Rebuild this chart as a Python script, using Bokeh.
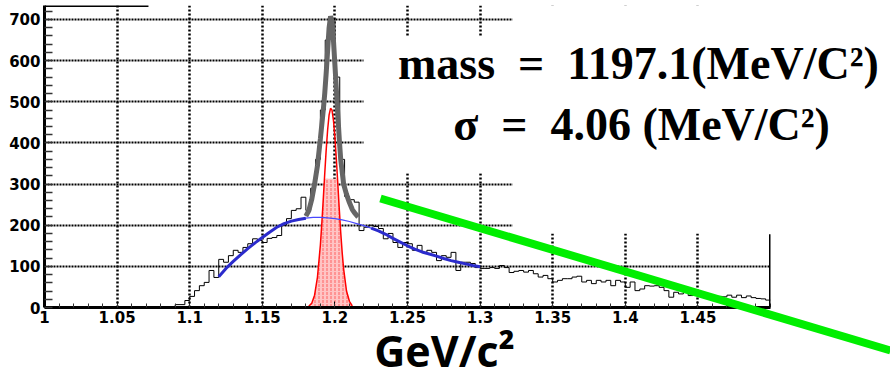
import numpy as np
from bokeh.plotting import figure
from bokeh.models import Range1d, FixedTicker, Label, Arrow, BoxAnnotation, GridBox
from bokeh.embed import file_html
from bokeh.resources import INLINE

# ---------------- data ----------------
hist_lo, hist_hi, n_bins = 1.0, 1.5, 150
counts = [0] * 27 + [
    7, 7, 17, 27, 41, 53, 61, 90, 73, 117,
    110, 126, 139, 134, 146, 155, 167, 163, 158, 168,
    170, 175, 200, 216, 236, 240, 268, 236, 290, 360,
    480, 650, 700, 560, 360, 270, 262, 256, 187, 195,
    200, 197, 192, 167, 180, 158, 146, 158, 155, 139,
    151, 134, 139, 134, 114, 126, 122, 134, 90, 110,
    110, 107, 97, 95, 95, 97, 95, 102, 97, 85,
    88, 90, 86, 90, 82, 74, 78, 70, 62, 66,
    70, 70, 74, 76, 62, 66, 58, 66, 62, 66,
    53, 66, 62, 49, 62, 41, 45, 53, 52, 53,
    49, 41, 25, 37, 33, 37, 29, 30, 29, 33,
    30, 28, 27, 26, 30, 25, 30, 24, 28, 24,
    22, 21, 18]

bg_x = [1.120, 1.125, 1.130, 1.135, 1.140, 1.145, 1.150, 1.155, 1.160, 1.165,
        1.170, 1.175, 1.180, 1.185, 1.190, 1.195, 1.200, 1.205, 1.210, 1.215,
        1.220, 1.225, 1.230, 1.235, 1.240, 1.245, 1.250, 1.255, 1.260, 1.265,
        1.270, 1.275, 1.280, 1.285, 1.290, 1.295, 1.300]
bg_y = [75, 95, 112, 128, 143, 157, 170, 183, 195, 204,
        210, 214, 217, 219, 219, 218, 216, 213, 209, 204,
        199, 193, 186, 178, 168, 159, 150, 142, 135, 130,
        125, 119, 114, 110, 106, 102, 99]

tot_x = [1.180, 1.182, 1.184, 1.186, 1.188, 1.190, 1.192, 1.193, 1.194, 1.195,
         1.196, 1.197, 1.198, 1.199, 1.200, 1.201, 1.202, 1.203, 1.204, 1.206,
         1.208, 1.210, 1.212, 1.214, 1.216]
tot_y = [222, 235, 262, 300, 345, 410, 480, 520, 570, 625,
         680, 708, 695, 650, 590, 530, 470, 410, 360, 300,
         275, 255, 238, 228, 220]

sig_x = [1.182, 1.184, 1.186, 1.188, 1.190, 1.191, 1.192, 1.193, 1.194, 1.195,
         1.196, 1.197, 1.198, 1.199, 1.200, 1.201, 1.202, 1.203, 1.204, 1.205,
         1.206, 1.208, 1.210, 1.212]
sig_y = [3, 10, 30, 74, 152, 205, 264, 325, 383, 432,
         468, 484, 480, 455, 414, 360, 300, 240, 183, 134,
         94, 40, 15, 4]

fill_x = [1.184, 1.186, 1.188, 1.190, 1.191, 1.192, 1.1928, 1.197, 1.2018, 1.202,
          1.203, 1.204, 1.205, 1.206, 1.208, 1.210, 1.212]
fill_y = [10, 30, 74, 152, 205, 264, 313, 313, 313, 300,
          240, 183, 134, 94, 40, 15, 4]

x_ticks = [1.0, 1.05, 1.1, 1.15, 1.2, 1.25, 1.3, 1.35, 1.4, 1.45]
x_tick_labels = ["1", "1.05", "1.1", "1.15", "1.2", "1.25", "1.3", "1.35", "1.4", "1.45"]
y_ticks = [0, 100, 200, 300, 400, 500, 600, 700]

mass_text = "mass\u2002=\u20021197.1(MeV/C\u00b2)"
sigma_text = "\u03c3\u2002=\u20024.06 (MeV/C\u00b2)"
x_title = "GeV/c\u00b2"

# ---------------- layout constants ----------------
W, H = 890, 375
MB_L, MB_R, MB_T, MB_B = 44, 120, 5, 68
X0, X1, Y0, Y1 = 1.0, 1.5, 0, 734

# ---------------- main figure ----------------
p = figure(width=W, height=H, x_range=Range1d(X0, X1), y_range=Range1d(Y0, Y1),
           output_backend="svg", toolbar_location=None,
           min_border_left=MB_L, min_border_right=MB_R,
           min_border_top=MB_T, min_border_bottom=MB_B)
p.frame_align = False
p.outline_line_color = None
p.background_fill_color = "white"
p.border_fill_color = "white"

x_minor = [round(1.0 + 0.01 * i, 2) for i in range(51)]
y_minor = [20 * i for i in range(37)]

xa = p.xaxis[0]
xa.ticker = FixedTicker(ticks=x_ticks, minor_ticks=x_minor)
xa.major_label_overrides = dict(zip(x_ticks, x_tick_labels))
ya = p.yaxis[0]
ya.ticker = FixedTicker(ticks=y_ticks, minor_ticks=y_minor)
for ax in (xa, ya):
    ax.axis_line_width = 3
    ax.axis_line_color = "black"
    ax.major_tick_out = 0
    ax.minor_tick_out = 0
    ax.major_tick_line_color = "black"
    ax.minor_tick_line_color = "#333333"
    ax.major_label_text_font = "DejaVu Sans"
    ax.major_label_text_font_style = "bold"
    ax.major_label_text_font_size = "15px"
    ax.major_label_text_color = "black"
xa.major_tick_in = 6
xa.minor_tick_in = 4
xa.major_label_standoff = 3
ya.major_tick_in = 8
ya.minor_tick_in = 8
ya.minor_tick_line_width = 1.5
ya.major_label_standoff = 4

p.xgrid.ticker = FixedTicker(ticks=x_ticks[1:])
p.xgrid.grid_line_color = "black"
p.xgrid.grid_line_width = 2.5
p.xgrid.grid_line_dash = "2 2"
p.ygrid.ticker = FixedTicker(ticks=y_ticks[1:])
p.ygrid.grid_line_color = "black"
p.ygrid.grid_line_width = 2
p.ygrid.grid_line_dash = "2 1"

# signal fill
p.varea(x=fill_x, y1=0, y2=fill_y, fill_color="#ffc4c4", fill_alpha=1.0,
        hatch_pattern="vertical_dash", hatch_color="red", hatch_alpha=0.5, hatch_scale=4)

# histogram
edges = list(np.linspace(hist_lo, hist_hi, n_bins + 1))
p.step(x=edges, y=counts + [counts[-1]], mode="after", line_color="black", line_width=1)

# signal gaussian
p.line(sig_x, sig_y, line_color="red", line_width=1.5)

# background
p.line(bg_x, bg_y, line_color="#4848ff", line_width=1.2)
bx = np.array(bg_x); by = np.array(bg_y)
left = bx <= 1.18
right = bx >= 1.225
p.line(bx[left], by[left], line_color="#2b2bcc", line_width=3)
p.line(bx[right], by[right], line_color="#2b2bcc", line_width=3)

# total fit
p.line(tot_x, tot_y, line_color="#666666", line_width=5)

# covering boxes (text area)
p.add_layout(BoxAnnotation(left=1.2197, bottom=326, top=659, fill_color="white",
                           fill_alpha=1.0, line_color=None))
p.add_layout(BoxAnnotation(left=1.3223, bottom=180, fill_color="white",
                           fill_alpha=1.0, line_color=None))

# partial frame borders
p.add_layout(Arrow(end=None, x_start=1.0, y_start=Y1, x_end=1.0716, y_end=Y1,
                   line_color="black", line_width=3))
p.add_layout(Arrow(end=None, x_start=1.5, y_start=0, x_end=1.5, y_end=178,
                   line_color="black", line_width=3))

# ---------------- overlay figure (same data scale, whole canvas) ----------------
fw = W - MB_L - MB_R
fh = H - MB_T - MB_B
ux = (X1 - X0) / fw
uy = (Y1 - Y0) / fh
ox0 = X0 - MB_L * ux
ox1 = X1 + MB_R * ux
oy0 = Y0 - MB_B * uy
oy1 = Y1 + MB_T * uy

q = figure(width=W, height=H, x_range=Range1d(ox0, ox1), y_range=Range1d(oy0, oy1),
           output_backend="svg", toolbar_location=None,
           x_axis_location=None, y_axis_location=None,
           min_border_left=0, min_border_right=0, min_border_top=0, min_border_bottom=0)
q.frame_align = False
q.grid.visible = False
q.outline_line_color = None
q.background_fill_color = None
q.border_fill_color = None

# green line
q.add_layout(Arrow(end=None, x_start=1.2314, y_start=265, x_end=1.5826, y_end=-104.5,
                   line_color="#00ee00", line_width=8))

# texts
q.add_layout(Label(x=1.409, y=593, text=mass_text, text_align="center",
                   text_baseline="alphabetic", text_font="Liberation Serif",
                   text_font_style="bold", text_font_size="46px", text_color="black"))
q.add_layout(Label(x=1.4112, y=444, text=sigma_text, text_align="center",
                   text_baseline="alphabetic", text_font="Liberation Serif",
                   text_font_style="bold", text_font_size="46px", text_color="black"))
q.add_layout(Label(x=1.2755, y=-105, text=x_title, text_align="center",
                   text_baseline="alphabetic", text_font="Open Sans",
                   text_font_style="bold", text_font_size="43px", text_color="black"))

root = GridBox(children=[(p, 0, 0), (q, 0, 0)])

open("out.html", "w").write(file_html(root, INLINE))
